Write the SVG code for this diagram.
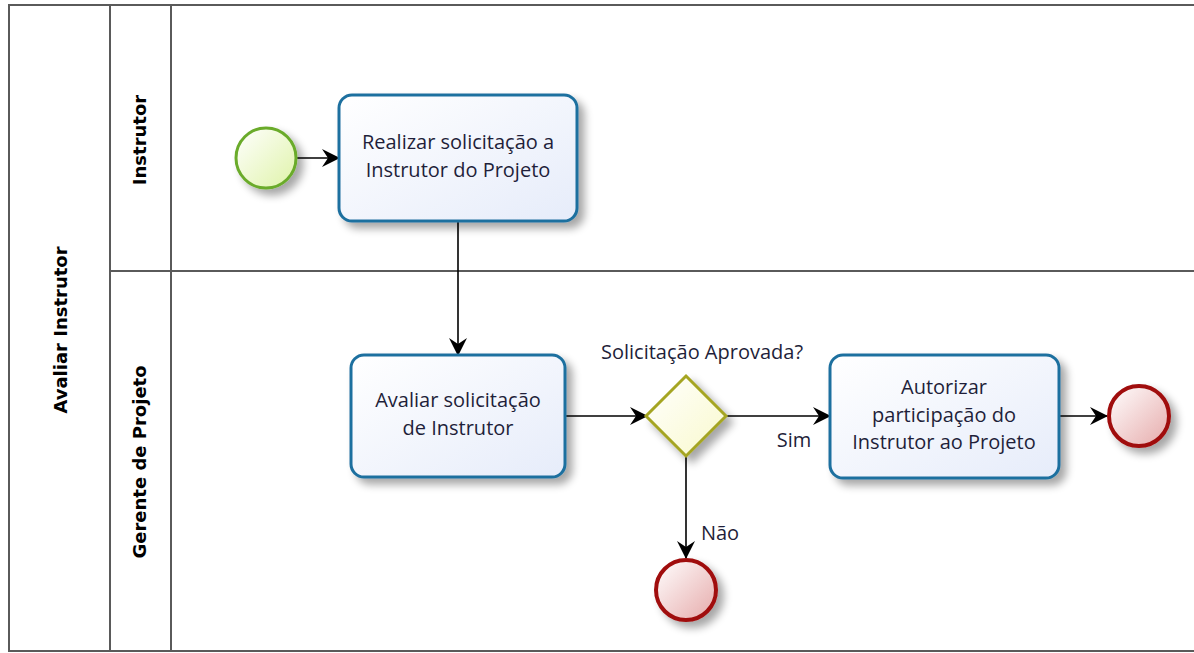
<svg xmlns="http://www.w3.org/2000/svg" width="1194" height="653" viewBox="0 0 1194 653">
<style>
.lane{fill:none;stroke:#5a5a5a;stroke-width:2}
.lbl{font-family:"DejaVu Sans",sans-serif;font-weight:bold;font-size:18px;fill:#000;text-anchor:middle}
.task{fill:url(#gTask);stroke:#1f6f9f;stroke-width:3;filter:url(#sh)}
.tt{font-family:"Open Sans","Noto Sans",sans-serif;font-size:20px;fill:#1f1f3a;text-anchor:middle}
.edge{fill:none;stroke:#000;stroke-width:1.6}
.end{fill:url(#gEnd);stroke:#a00d0d;stroke-width:4;filter:url(#sh)}
</style>
<defs>
<linearGradient id="gTask" x1="0" y1="0" x2="1" y2="1"><stop offset="0" stop-color="#ffffff"/><stop offset="1" stop-color="#e6ecfa"/></linearGradient>
<linearGradient id="gStart" x1="0" y1="0" x2="1" y2="1"><stop offset="0" stop-color="#ffffff"/><stop offset="1" stop-color="#dff3a8"/></linearGradient>
<linearGradient id="gEnd" x1="0" y1="0" x2="1" y2="1"><stop offset="0" stop-color="#ffffff"/><stop offset="1" stop-color="#e6aaaa"/></linearGradient>
<linearGradient id="gGw" x1="0" y1="0" x2="1" y2="1"><stop offset="0" stop-color="#ffffff"/><stop offset="1" stop-color="#f9f9cc"/></linearGradient>
<filter id="sh" x="-20%" y="-20%" width="150%" height="150%"><feGaussianBlur in="SourceAlpha" stdDeviation="4"/><feOffset dx="6" dy="6"/><feComponentTransfer><feFuncA type="linear" slope="0.35"/></feComponentTransfer><feMerge><feMergeNode/><feMergeNode in="SourceGraphic"/></feMerge></filter>
<marker id="arr" viewBox="0 0 18 18" refX="17" refY="9" markerWidth="18" markerHeight="18" markerUnits="userSpaceOnUse" orient="auto"><path d="M0,0 L18,9 L0,18 L6,9 Z" fill="#000"/></marker>
</defs>
<g id="pool">
<rect class="lane" x="9" y="5" width="1200" height="646"/>
<line class="lane" x1="110" y1="5" x2="110" y2="651"/>
<line class="lane" x1="171" y1="5" x2="171" y2="651"/>
<line class="lane" x1="110" y1="271" x2="1194" y2="271"/>
<text class="lbl" transform="translate(67,330) rotate(-90)">Avaliar Instrutor</text>
<text class="lbl" transform="translate(146,140) rotate(-90)">Instrutor</text>
<text class="lbl" transform="translate(146,462) rotate(-90)">Gerente de Projeto</text>
</g>
<g id="connectors">
<line class="edge" x1="297" y1="158" x2="339" y2="158" marker-end="url(#arr)"/>
<line class="edge" x1="458" y1="221" x2="458" y2="355" marker-end="url(#arr)"/>
<line class="edge" x1="565" y1="416" x2="647" y2="416" marker-end="url(#arr)"/>
<line class="edge" x1="727" y1="416" x2="830" y2="416" marker-end="url(#arr)"/>
<line class="edge" x1="1059" y1="416" x2="1107" y2="416" marker-end="url(#arr)"/>
<line class="edge" x1="686" y1="456" x2="686" y2="558" marker-end="url(#arr)"/>
<text class="tt" x="794" y="447">Sim</text>
<text class="tt" x="720" y="540">Não</text>
</g>
<g id="start"><circle cx="266" cy="158" r="30" fill="url(#gStart)" stroke="#6aab2b" stroke-width="3" filter="url(#sh)"/></g>
<g id="task1"><rect class="task" x="339" y="95" width="238" height="126" rx="13"/>
<text class="tt" x="458" y="149">Realizar solicitação a</text>
<text class="tt" x="458" y="177">Instrutor do Projeto</text></g>
<g id="task2"><rect class="task" x="351" y="355" width="214" height="122" rx="13"/>
<text class="tt" x="458" y="407">Avaliar solicitação</text>
<text class="tt" x="458" y="435">de Instrutor</text></g>
<g id="gateway"><path d="M686,376 L726,416 L686,456 L646,416 Z" fill="url(#gGw)" stroke="#a5a524" stroke-width="3" filter="url(#sh)"/>
<text class="tt" x="702" y="359">Solicitação Aprovada?</text></g>
<g id="task3"><rect class="task" x="830" y="355" width="229" height="123" rx="13"/>
<text class="tt" x="944" y="394">Autorizar</text>
<text class="tt" x="944" y="422">participação do</text>
<text class="tt" x="944" y="449">Instrutor ao Projeto</text></g>
<g id="end1"><circle class="end" cx="1139" cy="416" r="30"/></g>
<g id="end2"><circle class="end" cx="686" cy="590" r="30"/></g>
</svg>
